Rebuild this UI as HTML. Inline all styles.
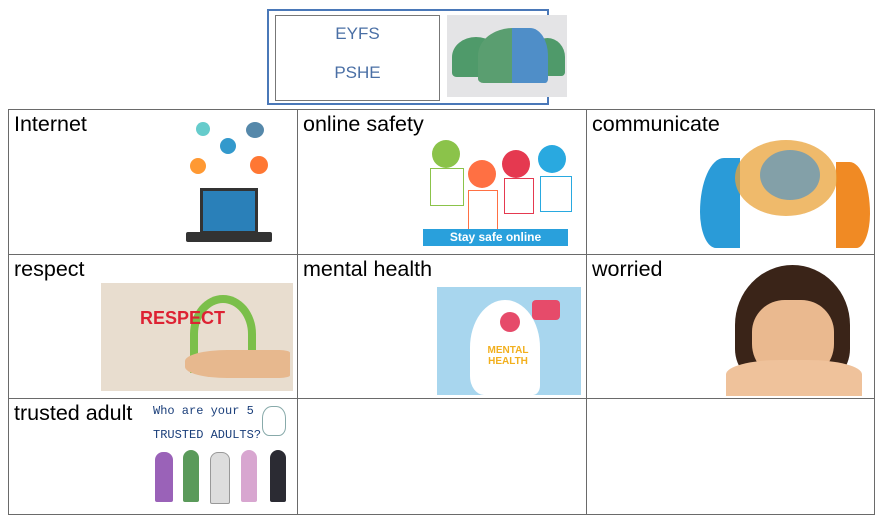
<!DOCTYPE html>
<html><head><style>
body{margin:0;width:885px;height:524px;background:#fff;position:relative;overflow:hidden;font-family:"Liberation Sans",sans-serif}
.a{position:absolute}
.l{position:absolute;background:#6a6a6a}
.t{position:absolute;font-size:21.5px;color:#000}
</style></head><body>
<div class="a" style="left:267px;top:9px;width:278px;height:92px;border:2px solid #4a78b8"></div>
<div class="a" style="left:275px;top:15px;width:163px;height:84px;border:1px solid #777"></div>
<div class="a" style="left:275px;top:24px;width:165px;text-align:center;color:#4a6fa5;font-size:17px">EYFS</div>
<div class="a" style="left:275px;top:63px;width:165px;text-align:center;color:#4a6fa5;font-size:17px">PSHE</div>
<div class="a" style="left:447px;top:15px;width:120px;height:82px;background:#e4e4e6"></div>
<div class="a" style="left:452px;top:37px;width:48px;height:40px;background:#4f9a6a;border-radius:50% 50% 10% 10%"></div>
<div class="a" style="left:530px;top:38px;width:35px;height:38px;background:#4f9a6a;border-radius:50% 50% 10% 10%"></div>
<div class="a" style="left:478px;top:28px;width:70px;height:55px;background:#5a9e70;border-radius:50% 50% 8% 8%"></div>
<div class="a" style="left:512px;top:28px;width:36px;height:55px;background:#4f8ec8;border-radius:0 50% 8% 0"></div>
<div class="l" style="left:8px;top:109px;width:867px;height:1px"></div>
<div class="l" style="left:8px;top:254px;width:867px;height:1px"></div>
<div class="l" style="left:8px;top:398px;width:867px;height:1px"></div>
<div class="l" style="left:8px;top:514px;width:867px;height:1px"></div>
<div class="l" style="left:8px;top:109px;width:1px;height:406px"></div>
<div class="l" style="left:297px;top:109px;width:1px;height:406px"></div>
<div class="l" style="left:586px;top:109px;width:1px;height:406px"></div>
<div class="l" style="left:874px;top:109px;width:1px;height:406px"></div>
<div class="t" style="left:14px;top:112px">Internet</div>
<div class="t" style="left:303px;top:112px">online safety</div>
<div class="t" style="left:592px;top:112px">communicate</div>
<div class="t" style="left:14px;top:257px">respect</div>
<div class="t" style="left:303px;top:257px">mental health</div>
<div class="t" style="left:592px;top:257px">worried</div>
<div class="t" style="left:14px;top:401px">trusted adult</div>
<div class="a" style="left:196px;top:122px;width:14px;height:14px;border-radius:50%;background:#6cc"></div>
<div class="a" style="left:220px;top:138px;width:16px;height:16px;border-radius:50%;background:#39c"></div>
<div class="a" style="left:246px;top:122px;width:18px;height:16px;border-radius:50%;background:#58a"></div>
<div class="a" style="left:190px;top:158px;width:16px;height:16px;border-radius:50%;background:#f93"></div>
<div class="a" style="left:250px;top:156px;width:18px;height:18px;border-radius:50%;background:#f73"></div>
<div class="a" style="left:200px;top:188px;width:52px;height:40px;background:#2a80b9;border:3px solid #333"></div>
<div class="a" style="left:186px;top:232px;width:86px;height:10px;background:#333;border-radius:2px"></div>
<div class="a" style="left:432px;top:140px;width:28px;height:28px;border-radius:50%;background:#8bc34a"></div>
<div class="a" style="left:468px;top:160px;width:28px;height:28px;border-radius:50%;background:#ff7043"></div>
<div class="a" style="left:502px;top:150px;width:28px;height:28px;border-radius:50%;background:#e53950"></div>
<div class="a" style="left:538px;top:145px;width:28px;height:28px;border-radius:50%;background:#29a9e0"></div>
<div class="a" style="left:430px;top:168px;width:32px;height:36px;border:1px solid #8bc34a"></div>
<div class="a" style="left:468px;top:190px;width:28px;height:38px;border:1px solid #ff7043"></div>
<div class="a" style="left:504px;top:178px;width:28px;height:34px;border:1px solid #e53950"></div>
<div class="a" style="left:540px;top:176px;width:30px;height:34px;border:1px solid #29a9e0"></div>
<div class="a" style="left:423px;top:229px;width:145px;height:17px;background:#29a0dc;color:#fff;font-size:12px;font-weight:bold;line-height:17px;text-align:center">Stay safe online</div>
<div class="a" style="left:700px;top:158px;width:40px;height:90px;background:#2a9bd8;border-radius:60% 0 0 40%"></div>
<div class="a" style="left:836px;top:162px;width:34px;height:86px;background:#f08a24;border-radius:0 60% 40% 0"></div>
<div class="a" style="left:735px;top:140px;width:102px;height:76px;background:#e9a33a;border-radius:50%;opacity:.75"></div>
<div class="a" style="left:760px;top:150px;width:60px;height:50px;background:#3a8fd0;border-radius:50%;opacity:.6"></div>
<div class="a" style="left:101px;top:283px;width:192px;height:108px;background:#e8ddcf"></div>
<div class="a" style="left:190px;top:295px;width:50px;height:70px;border-radius:50% 50% 0 0;border:8px solid #7bbf4a;border-bottom:none"></div>
<div class="a" style="left:140px;top:308px;width:90px;height:20px;color:#d23;font-weight:bold;font-size:18px">RESPECT</div>
<div class="a" style="left:185px;top:350px;width:105px;height:28px;background:#e7b88e;border-radius:40% 10% 10% 40%"></div>
<div class="a" style="left:437px;top:287px;width:144px;height:108px;background:#a8d6ee"></div>
<div class="a" style="left:470px;top:300px;width:70px;height:95px;background:#fff;border-radius:50% 50% 10% 20%"></div>
<div class="a" style="left:478px;top:345px;width:60px;font-size:10px;font-weight:bold;color:#f2b01e;text-align:center">MENTAL HEALTH</div>
<div class="a" style="left:500px;top:312px;width:20px;height:20px;border-radius:50%;background:#e64b6a"></div>
<div class="a" style="left:532px;top:300px;width:28px;height:20px;background:#e64b6a;border-radius:4px"></div>
<div class="a" style="left:735px;top:265px;width:115px;height:120px;background:#3a2418;border-radius:50% 50% 30% 30%"></div>
<div class="a" style="left:752px;top:300px;width:82px;height:80px;background:#eab98f;border-radius:40% 40% 45% 45%"></div>
<div class="a" style="left:726px;top:360px;width:136px;height:36px;background:#efc29b;border-radius:40% 40% 0 0"></div>
<div class="a" style="left:153px;top:404px;font-family:'Liberation Mono',monospace;font-size:12px;color:#1a3e7a">Who are your 5</div>
<div class="a" style="left:153px;top:428px;font-family:'Liberation Mono',monospace;font-size:12px;color:#1a3e7a">TRUSTED ADULTS?</div>
<div class="a" style="left:262px;top:406px;width:22px;height:28px;border:1.5px solid #8aa;border-radius:40% 40% 30% 30%"></div>
<div class="a" style="left:155px;top:452px;width:18px;height:50px;background:#9a62b8;border-radius:8px 8px 2px 2px"></div>
<div class="a" style="left:183px;top:450px;width:16px;height:52px;background:#5a9a5a;border-radius:8px 8px 2px 2px"></div>
<div class="a" style="left:210px;top:452px;width:18px;height:50px;background:#ddd;border:1px solid #999;border-radius:8px 8px 2px 2px"></div>
<div class="a" style="left:241px;top:450px;width:16px;height:52px;background:#d8a6d0;border-radius:8px 8px 2px 2px"></div>
<div class="a" style="left:270px;top:450px;width:16px;height:52px;background:#2b2b33;border-radius:8px 8px 2px 2px"></div>
</body></html>
